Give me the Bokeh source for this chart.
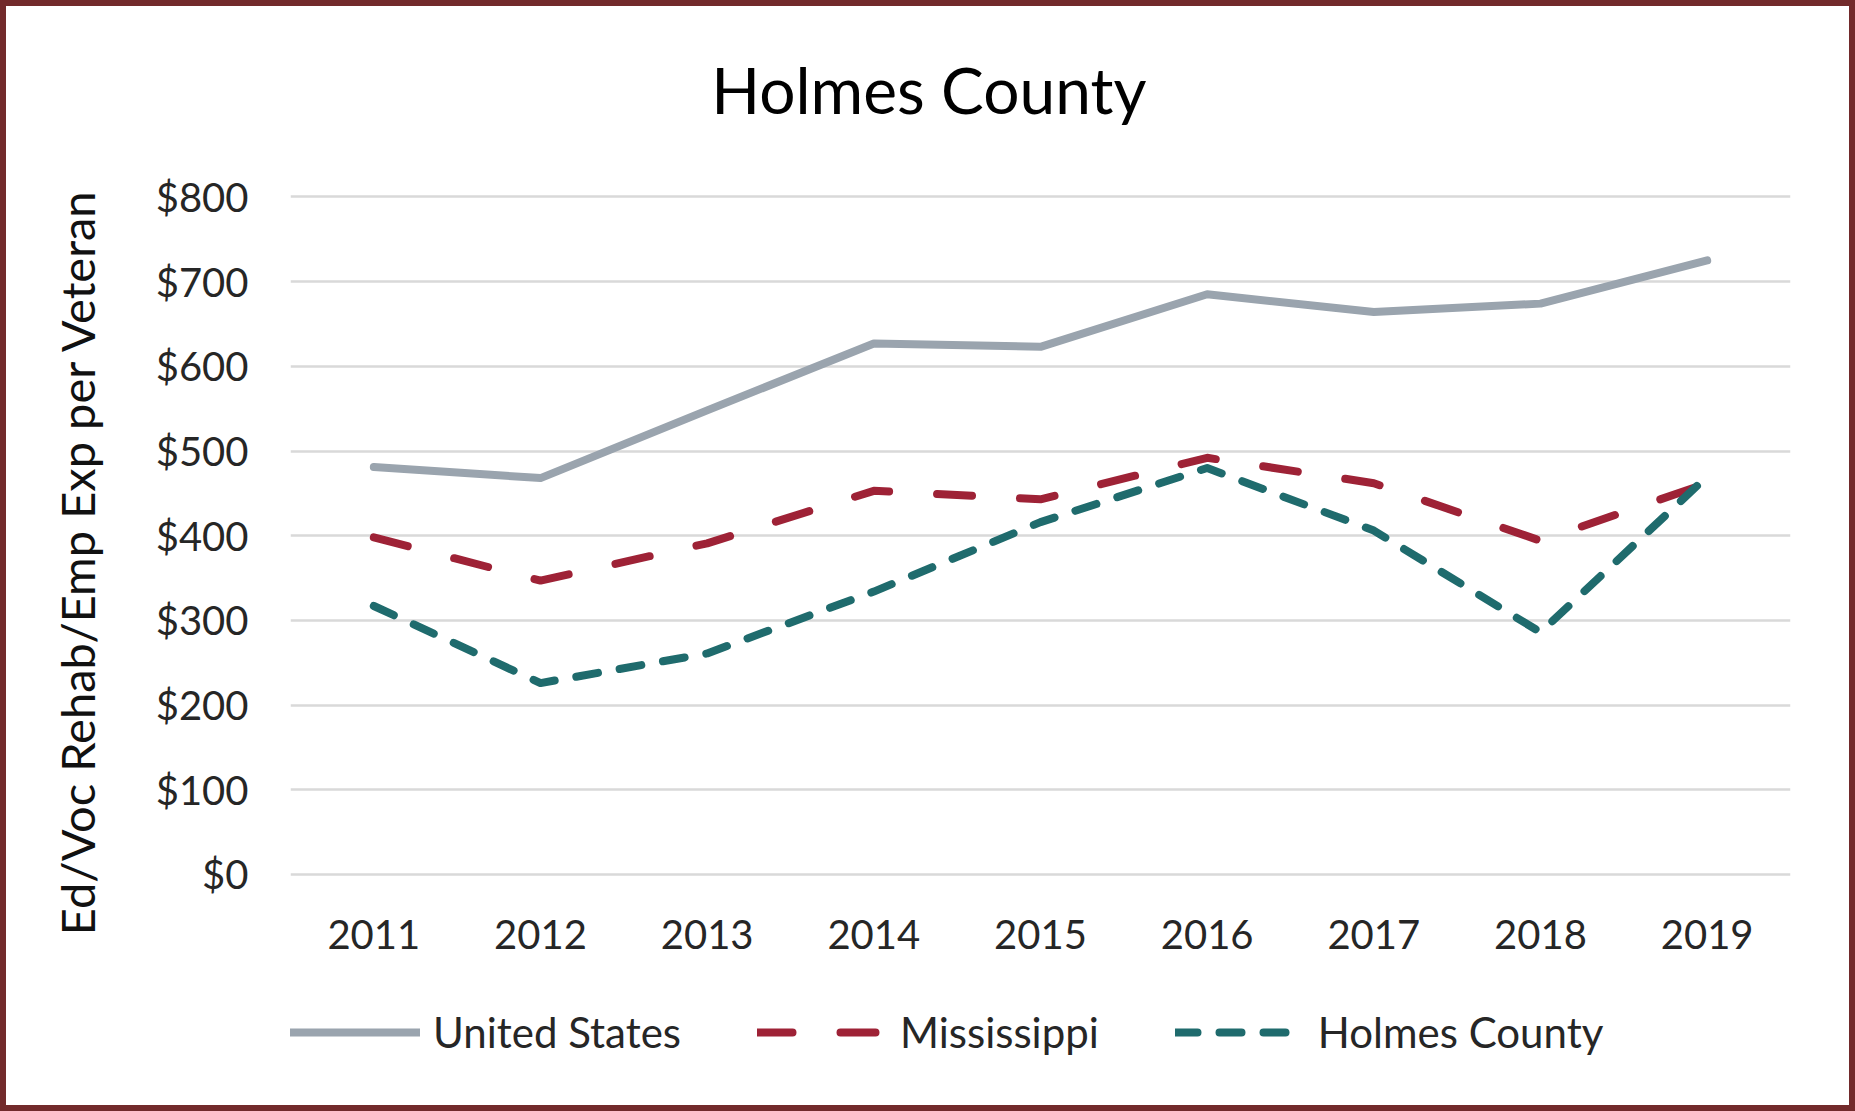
from bokeh.plotting import figure
from bokeh.models import Range1d, FixedTicker, NumeralTickFormatter, Legend, LegendItem, Label
from bokeh.embed import file_html
from bokeh.resources import INLINE

# ---- data ----
years = [2011, 2012, 2013, 2014, 2015, 2016, 2017, 2018, 2019]
year_labels = ["2011", "2012", "2013", "2014", "2015", "2016", "2017", "2018", "2019"]
united_states = [481, 468, 548, 627, 623, 685, 664, 674, 725]
mississippi = [398, 347, 391, 453, 443, 492, 462, 394, 462]
holmes_county = [317, 226, 261, 334, 416, 480, 406, 286, 470]
y_ticks = [0, 100, 200, 300, 400, 500, 600, 700, 800]
series_names = ["United States", "Mississippi", "Holmes County"]
title_text = "Holmes County"
y_label = "Ed/Voc Rehab/Emp Exp per Veteran"

FONT = "Lato"
TXT = "#262626"

# the plot frame spans the full height so title, axis labels and legend can sit inside it
p = figure(width=1843, height=1099, output_backend="svg", toolbar_location=None,
           x_range=Range1d(2010.5, 2019.5), y_range=Range1d(-286.9, 1024.8),
           min_border_left=284, min_border_right=71, min_border_top=0, min_border_bottom=0)
p.title_location = None
p.styles = {"border": "6px solid #722a2b", "box-sizing": "content-box"}
p.outline_line_color = None
p.background_fill_color = "white"
p.border_fill_color = "white"

# axes
p.xaxis.fixed_location = 0
p.xaxis.ticker = FixedTicker(ticks=years)
p.xaxis.major_label_overrides = {y: l for y, l in zip(years, year_labels)}
p.yaxis.ticker = FixedTicker(ticks=y_ticks)
p.yaxis.formatter = NumeralTickFormatter(format="$0")
for ax in (p.xaxis[0], p.yaxis[0]):
    ax.axis_line_color = None
    ax.major_tick_line_color = None
    ax.minor_tick_line_color = None
    ax.major_label_text_font = FONT
    ax.major_label_text_font_size = "40px"
    ax.major_label_text_color = TXT
p.xaxis.major_label_standoff = 40
p.yaxis.major_label_standoff = 36
p.yaxis.axis_label = y_label
p.yaxis.axis_label_text_font = FONT
p.yaxis.axis_label_text_font_size = "47px"
p.yaxis.axis_label_text_font_style = "normal"
p.yaxis.axis_label_text_color = "#111111"
p.yaxis.axis_label_standoff = 48

p.xgrid.grid_line_color = None
p.ygrid.grid_line_color = "#d9d9d9"
p.ygrid.grid_line_width = 2.5

r_us = p.line(years, united_states, line_color="#9aa4ae", line_width=8, line_cap="round", line_join="round")
r_ms = p.line(years, mississippi, line_color="#9e2236", line_width=8, line_cap="round", line_join="round",
              line_dash="35 48")
r_hc = p.line(years, holmes_county, line_color="#1f6b6d", line_width=8, line_cap="round", line_join="round",
              line_dash="22 22")

legend = Legend(items=[LegendItem(label=series_names[0], renderers=[r_us]),
                       LegendItem(label=series_names[1], renderers=[r_ms]),
                       LegendItem(label=series_names[2], renderers=[r_hc])],
                location=(0, 60), orientation="horizontal")
legend.label_text_font = FONT
legend.label_text_font_size = "42px"
legend.label_text_color = TXT
legend.glyph_width = 130
legend.glyph_height = 40
legend.label_height = 40
legend.label_standoff = 13
legend.spacing = 76
legend.padding = 0
legend.margin = 0
legend.border_line_color = None
legend.background_fill_alpha = 0
p.add_layout(legend)

title = Label(x=2014.33, y=926.6, text=title_text, text_align="center", text_baseline="alphabetic",
              text_font=FONT, text_font_size="64px", text_color="#000000")
p.add_layout(title)

open("out.html", "w").write(file_html(p, INLINE))
